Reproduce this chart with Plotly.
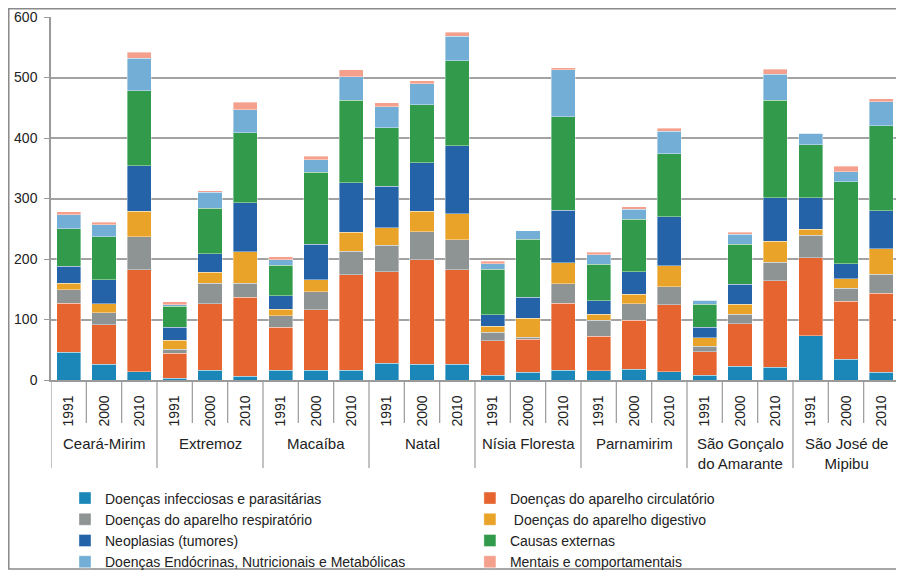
import plotly.graph_objects as go

municipios = ["Ceará-Mirim", "Extremoz", "Macaíba", "Natal", "Nísia Floresta",
              "Parnamirim", "São Gonçalo<br>do Amarante", "São José de<br>Mipibu"]
anos = ["1991", "2000", "2010"]

infecciosas = [46, 26, 14, 3, 16, 6, 16, 16, 16, 28, 26, 26, 8, 13, 16, 15, 18, 14, 8, 23, 21, 73, 34, 13]
circulatorio = [81, 65, 168, 41, 110, 131, 71, 100, 158, 151, 173, 156, 57, 54, 111, 57, 81, 110, 39, 70, 143, 129, 96, 130]
respiratorio = [22, 20, 55, 7, 34, 23, 19, 30, 39, 44, 46, 50, 14, 4, 32, 27, 27, 30, 9, 16, 31, 37, 22, 32]
digestivo = [11, 15, 42, 15, 18, 52, 11, 20, 31, 29, 34, 43, 10, 31, 35, 10, 16, 35, 14, 16, 34, 10, 15, 42]
neoplasias = [28, 40, 75, 21, 31, 81, 22, 58, 82, 68, 80, 112, 19, 35, 87, 22, 37, 81, 17, 33, 72, 52, 25, 63]
externas = [62, 71, 124, 35, 75, 116, 51, 119, 136, 97, 96, 141, 75, 96, 154, 60, 87, 104, 38, 66, 161, 88, 136, 140]
endocrinas = [23, 20, 54, 2, 26, 38, 9, 21, 39, 35, 35, 40, 9, 14, 78, 16, 16, 37, 7, 17, 43, 19, 16, 40]
mentais = [5, 4, 10, 5, 3, 12, 5, 6, 12, 6, 5, 7, 4, 0, 3, 4, 4, 5, 0, 3, 9, 0, 9, 5]

series = [
    ("Doenças infecciosas e parasitárias", infecciosas, "#1a87b8", "legend"),
    ("Doenças do aparelho circulatório", circulatorio, "#e66430", "legend2"),
    ("Doenças do aparelho respiratório", respiratorio, "#8e9393", "legend"),
    (" Doenças do aparelho digestivo", digestivo, "#e8a328", "legend2"),
    ("Neoplasias (tumores)", neoplasias, "#2563a9", "legend"),
    ("Causas externas", externas, "#329a4b", "legend2"),
    ("Doenças Endócrinas, Nutricionais e Metabólicas", endocrinas, "#72aed5", "legend"),
    ("Mentais e comportamentais", mentais, "#f4a08c", "legend2"),
]

labels_anos = [a for m in municipios for a in anos]
xpos = list(range(len(labels_anos)))

FONT = "Liberation Sans, Arial, sans-serif"
TXT = "#222222"
fig = go.Figure()
for name, vals, color, leg in series:
    fig.add_trace(go.Bar(
        x=xpos, y=vals, name=name, legend=leg,
        marker=dict(color=color, line=dict(color="rgba(255,255,255,0.55)", width=0.7)),
    ))

# the page adds an 8px body margin, so the figure is 896x565 and
# the plot area sits at x 43..891, y 9..372 inside it
shapes = []
line_col = "#9a9a9a"
n = len(xpos)
for i in range(n + 1):
    b = i - 0.5
    long = (i % len(anos) == 0)
    shapes.append(dict(type="line", xref="x", yref="paper", x0=b, x1=b,
                       y0=0, y1=(-0.2424 if long else -0.1185),
                       line=dict(color=line_col, width=1.2)))
# outer frame (right side lies beyond the visible page)
shapes.append(dict(type="rect", xref="paper", yref="paper",
                   x0=-0.0498, x1=1.05, y0=-0.5207, y1=1.0227,
                   line=dict(color="#8a8a8a", width=1.5)))

annotations = []
for g, m in enumerate(municipios):
    cx = g * len(anos) + (len(anos) - 1) / 2
    annotations.append(dict(
        x=cx, y=-0.146, xref="x", yref="paper",
        text=m, showarrow=False, xanchor="center", yanchor="top",
        font=dict(family=FONT, size=15, color=TXT)))

fig.update_layout(
    barmode="stack",
    bargap=0.32,
    width=896, height=565,
    margin=dict(l=43, r=5, t=9, b=193, autoexpand=False),
    paper_bgcolor="white", plot_bgcolor="white",
    font=dict(family=FONT, color=TXT),
    shapes=shapes,
    annotations=annotations,
    xaxis=dict(
        range=[-0.5, n - 0.5], tickmode="array", tickvals=xpos, ticktext=labels_anos,
        tickangle=-90, tickfont=dict(size=14, family=FONT, color=TXT),
        showline=True, linecolor=line_col, linewidth=1.5, showgrid=False,
        ticks="", ticklabelstandoff=8, zeroline=False, automargin=False,
    ),
    yaxis=dict(
        range=[0, 600], dtick=100, showgrid=True, gridcolor="#a2a2a2", gridwidth=1.8,
        showline=True, linecolor=line_col, linewidth=1.5, ticks="outside", ticklen=5,
        tickcolor=line_col, tickfont=dict(size=14, family=FONT, color=TXT),
        ticklabelstandoff=4, zeroline=False, automargin=False,
    ),
    legend=dict(x=0.0165, y=-0.2824, xanchor="left", yanchor="top", orientation="v",
                font=dict(size=14, family=FONT, color=TXT), tracegroupgap=0,
                bgcolor="rgba(0,0,0,0)", traceorder="normal"),
    legend2=dict(x=0.494, y=-0.2824, xanchor="left", yanchor="top", orientation="v",
                 font=dict(size=14, family=FONT, color=TXT), tracegroupgap=0,
                 bgcolor="rgba(0,0,0,0)", traceorder="normal"),
)

fig.write_html("out.html")
